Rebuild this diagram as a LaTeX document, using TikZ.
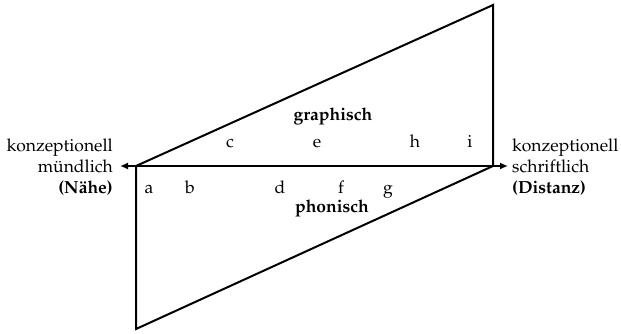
\documentclass[tikz,border=0pt]{standalone}
\usepackage[T1]{fontenc}
\usepackage{mathpazo}
\usetikzlibrary{arrows.meta}
\begin{document}
\begin{tikzpicture}[x=1pt,y=-1pt,
  lbl/.style={inner sep=0pt,font=\fontsize{17.5}{21}\selectfont},
  blbl/.style={inner sep=0pt,font=\fontsize{17.5}{21}\selectfont\bfseries},
  side/.style={inner sep=0pt,font=\fontsize{17.5}{21}\selectfont,align=#1},
  edge/.style={line width=2pt,line join=miter}]
\useasboundingbox (0,0) rectangle (621,334);
% vertices
\coordinate (L) at (136,166);
\coordinate (T) at (493,5);
\coordinate (R) at (493,166);
\coordinate (B) at (136,329);
\coordinate (AL) at (120,166);
\coordinate (AR) at (508,166);
\draw[edge] (L) -- (T) -- (R);
\draw[edge] (L) -- (B) -- (R);
\draw[line width=2pt,{Latex[length=8pt,width=7pt]}-{Latex[length=8pt,width=7pt]}] (AL) -- (AR);
% labels
\node[blbl] (gra) at (333,116) {graphisch};
\node[blbl] (pho) at (332,208) {phonisch};
\node[lbl,anchor=base] (c) at (230,148) {c};
\node[lbl,anchor=base] (e) at (317,148) {e};
\node[lbl,anchor=base] (h) at (415,148) {h};
\node[lbl,anchor=base] (i) at (470,148) {i};
\node[lbl,anchor=base] (a) at (149,193) {a};
\node[lbl,anchor=base] (b) at (190,193) {b};
\node[lbl,anchor=base] (d) at (280,193) {d};
\node[lbl,anchor=base] (f) at (341,193) {f};
\node[lbl,anchor=base] (g) at (388,193) {g};
\node[side=right,anchor=east] (ml) at (113,167) {konzeptionell\\m\"undlich\\\textbf{(N\"ahe)}};
\node[side=left,anchor=west] (sr) at (512,167) {konzeptionell\\schriftlich\\\textbf{(Distanz)}};
\end{tikzpicture}
\end{document}
